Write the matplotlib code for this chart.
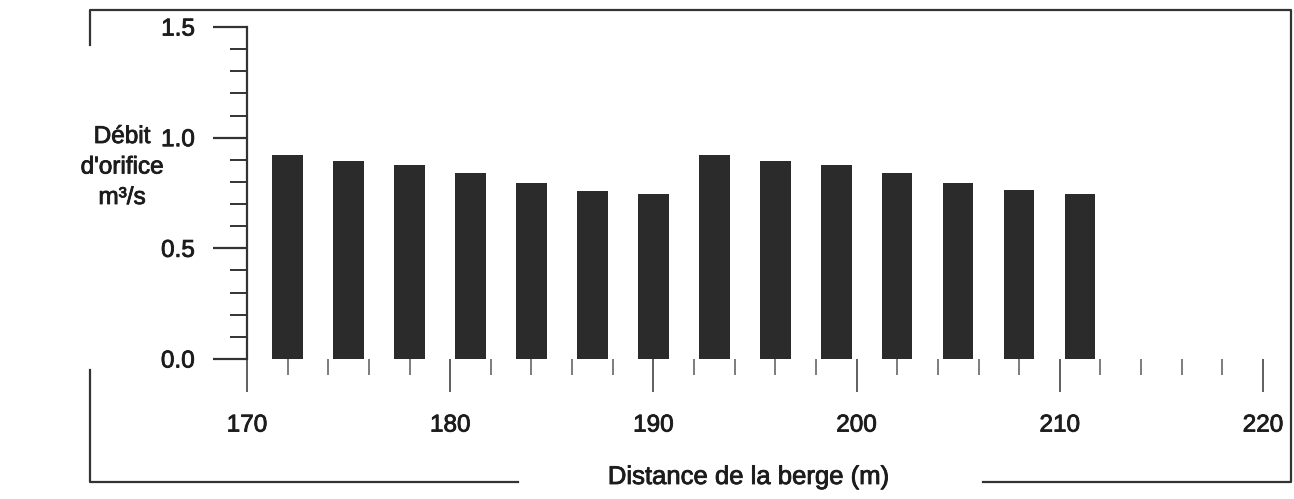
import matplotlib
matplotlib.use("Agg")
from matplotlib import pyplot as plt
from matplotlib.lines import Line2D
from matplotlib.ticker import MultipleLocator, FormatStrFormatter
import matplotlib.patheffects as pe

# distance from the bank (m) and orifice discharge (m3/s)
distance = [172, 175, 178, 181, 184, 187, 190, 193, 196, 199, 202, 205, 208, 211]
debit = [0.92, 0.895, 0.875, 0.84, 0.795, 0.76, 0.745,
         0.92, 0.895, 0.875, 0.84, 0.795, 0.762, 0.746]
ylabel_lines = ["Débit", "d'orifice", "m³/s"]

plt.rcParams['font.family'] = ['Liberation Sans', 'DejaVu Sans']
ink = '#1c1c1c'
thick = [pe.withStroke(linewidth=0.6, foreground=ink)]

W, H = 1294, 499
fig = plt.figure(figsize=(W / 100, H / 100), dpi=100)
ax = fig.add_axes([247 / W, 1 - 359 / H, (1263 - 247) / W, (359 - 27) / H])

ax.bar(distance, debit, width=1.5, color='#2b2b2b', linewidth=0)

ax.set_xlim(170, 220)
ax.set_ylim(0, 1.5)
for s in ['top', 'right', 'bottom']:
    ax.spines[s].set_visible(False)
ax.spines['left'].set_linewidth(1.6)
ax.spines['left'].set_color('#333333')

ax.xaxis.set_major_locator(MultipleLocator(10))
ax.xaxis.set_minor_locator(MultipleLocator(2))
ax.yaxis.set_major_locator(MultipleLocator(0.5))
ax.yaxis.set_minor_locator(MultipleLocator(0.1))
ax.yaxis.set_major_formatter(FormatStrFormatter('%.1f'))

ax.tick_params(axis='x', which='major', direction='out', length=24, width=1.2,
               color='#444444', pad=16, labelsize=17.5, labelcolor=ink)
ax.tick_params(axis='x', which='minor', direction='out', length=11.5, width=1.2,
               color='#666666')
ax.tick_params(axis='y', which='major', direction='out', length=24.5, width=1.6,
               color='#333333', pad=13, labelsize=17.5, labelcolor=ink)
ax.tick_params(axis='y', which='minor', direction='out', length=12, width=1.4,
               color='#333333')
for lab in ax.get_xticklabels() + ax.get_yticklabels():
    lab.set_path_effects(thick)

fig.text(749 / W, 1 - 477 / H, "Distance de la berge (m)", ha='center', va='center',
         fontsize=18.5, color=ink, path_effects=thick)
for i, line in enumerate(ylabel_lines):
    fig.text(122 / W, 1 - (137 + 30.5 * i) / H, line, ha='center', va='center',
             fontsize=17.5, color=ink, path_effects=thick)

# outer frame drawn around the figure
def fx(x):
    return x / W

def fy(y):
    return 1 - y / H

frame_kw = dict(transform=fig.transFigure, color='#333333', linewidth=1.6)
fig.add_artist(Line2D([fx(90), fx(90), fx(1291), fx(1291), fx(983)],
                      [fy(45), fy(10), fy(10), fy(482), fy(482)], **frame_kw))
fig.add_artist(Line2D([fx(518), fx(90), fx(90)],
                      [fy(482), fy(482), fy(370)], **frame_kw))

fig.savefig('out.png', dpi=100, facecolor='white')
